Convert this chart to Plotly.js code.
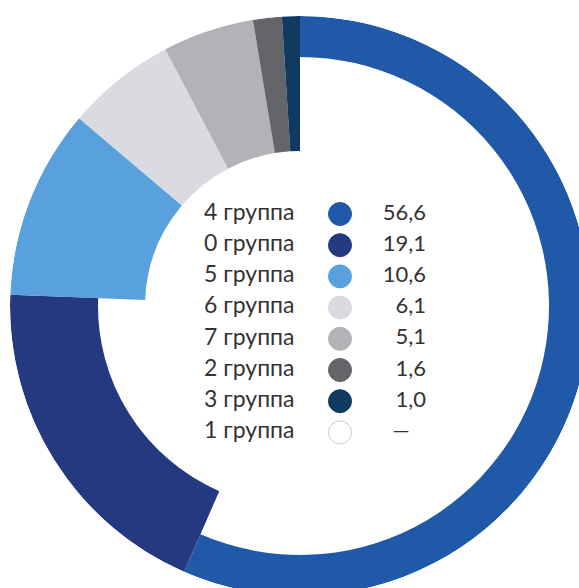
<!DOCTYPE html>
<html>
<head>
<meta charset="utf-8">
<script src="https://cdn.plot.ly/plotly-3.0.1.min.js"></script>
<style>
html,body{margin:0;padding:0;overflow:hidden;background:#fff;width:579px;height:588px;}
#chart{position:absolute;left:0;top:0;width:600px;height:600px;}
</style>
</head>
<body>
<div id="chart"></div>
<script>
// Data
var groups = ["4 группа", "0 группа", "5 группа", "6 группа", "7 группа", "2 группа", "3 группа", "1 группа"];
var shares = [56.6, 19.1, 10.6, 6.1, 5.1, 1.6, 1.0, null];

// Styles
var colors = ["#1f59a8", "#24397f", "#58a1dc", "#d9dbe0", "#b2b3b7", "#646569", "#103a62", "#ffffff"];
var innerRadius = [249, 202, 155, 155, 155, 155, 155, 155];
var outerRadius = 290;

// Ring segments (clockwise from 12 o'clock)
var total = 0;
shares.forEach(function(v){ if (v !== null) total += v; });
var theta = [], width = [], rThick = [], base = [], segColors = [], segNames = [];
var acc = 0;
for (var i = 0; i < shares.length; i++) {
  if (shares[i] === null) continue;
  var span = shares[i] / total * 360;
  theta.push(acc + span / 2);
  width.push(span);
  base.push(innerRadius[i]);
  rThick.push(outerRadius - innerRadius[i]);
  segColors.push(colors[i]);
  segNames.push(groups[i]);
  acc += span;
}

var ring = {
  type: "barpolar",
  theta: theta,
  width: width,
  r: rThick,
  base: base,
  text: segNames,
  marker: {color: segColors, line: {width: 0}},
  hoverinfo: "text",
  showlegend: false
};

// Center legend table
var rowY0 = 214, rowStep = 31.2;
var rowsY = groups.map(function(_, i){ return rowY0 + i * rowStep; });
var labelFont = {family: "Lato, 'Open Sans', sans-serif", size: 23, color: "#333333"};
var valueFont = {family: "Lato, 'Open Sans', sans-serif", size: 22, color: "#333333"};

var labelTrace = {
  type: "scatter", mode: "text",
  x: groups.map(function(){ return 204; }), y: rowsY,
  text: groups, textposition: "middle right",
  textfont: labelFont, hoverinfo: "skip", showlegend: false,
  xaxis: "x", yaxis: "y"
};
var dotTrace = {
  type: "scatter", mode: "markers",
  x: groups.map(function(){ return 340; }), y: rowsY,
  marker: {size: 23, color: colors, line: {color: colors.map(function(c){ return c === "#ffffff" ? "#cfcfcf" : c; }), width: 1}},
  hoverinfo: "skip", showlegend: false,
  xaxis: "x", yaxis: "y"
};
var valueTrace = {
  type: "scatter", mode: "text",
  x: shares.map(function(v){ return v === null ? 401 : 426; }), y: rowsY,
  text: shares.map(function(v){ return v === null ? "—" : v.toFixed(1).replace(".", ","); }),
  textposition: shares.map(function(v){ return v === null ? "middle center" : "middle left"; }),
  textfont: valueFont, hoverinfo: "skip", showlegend: false,
  xaxis: "x", yaxis: "y"
};

var W = 600, H = 600;
var layout = {
  width: W, height: H,
  margin: {l: 0, r: 0, t: 0, b: 0},
  paper_bgcolor: "#ffffff",
  plot_bgcolor: "rgba(0,0,0,0)",
  polar: {
    domain: {x: [10 / W, 590 / W], y: [4 / H, 584 / H]},
    bgcolor: "rgba(0,0,0,0)",
    hole: 0,
    bargap: 0,
    radialaxis: {range: [0, outerRadius], visible: false, showgrid: false},
    angularaxis: {direction: "clockwise", rotation: 90, visible: false, showgrid: false}
  },
  xaxis: {range: [0, W], visible: false, fixedrange: true, domain: [0, 1]},
  yaxis: {range: [H, 0], visible: false, fixedrange: true, domain: [0, 1]},
  showlegend: false
};

Plotly.newPlot("chart", [ring, labelTrace, dotTrace, valueTrace], layout, {displayModeBar: false, staticPlot: true});
</script>
</body>
</html>
